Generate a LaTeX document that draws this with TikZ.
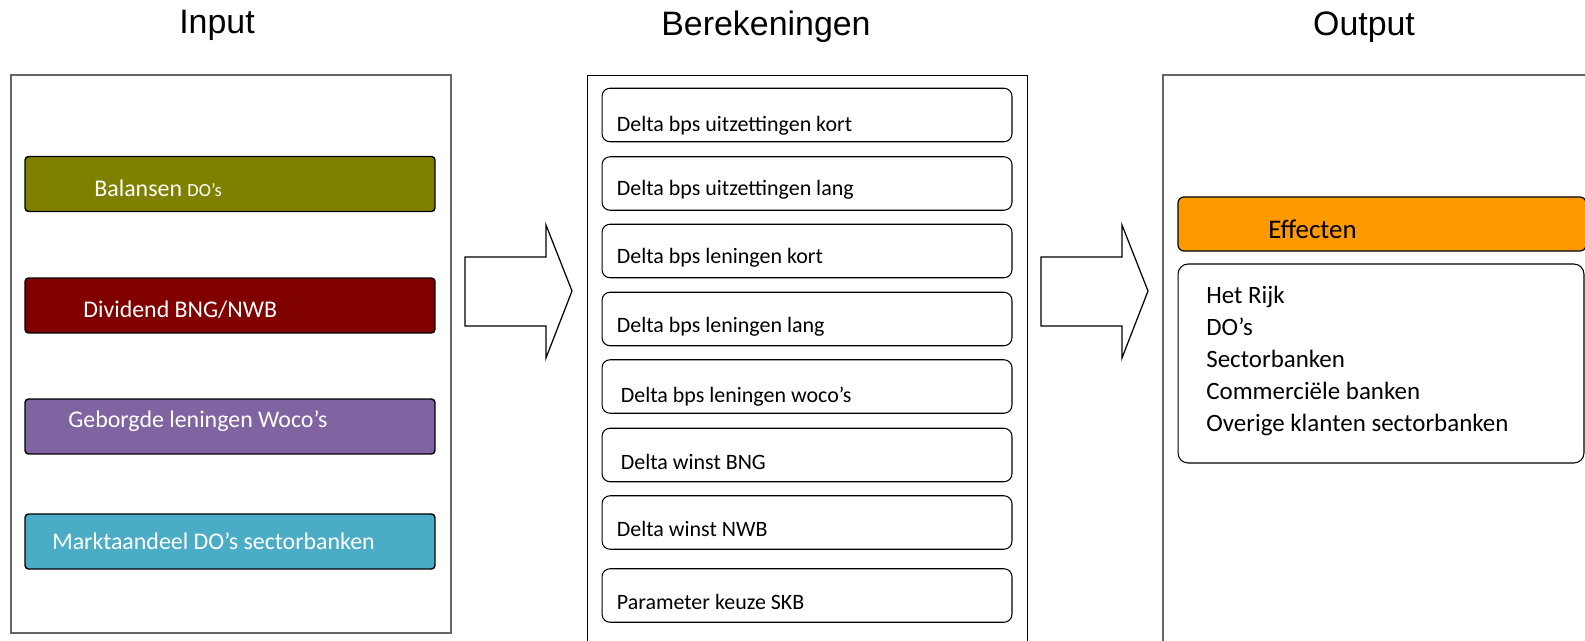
\documentclass[tikz,border=0pt]{standalone}
\usepackage{fontspec}
\setmainfont{Carlito}
\newfontfamily\headfont{Liberation Sans}

\definecolor{olivebox}{HTML}{808000}
\definecolor{darkredbox}{HTML}{800000}
\definecolor{purplebox}{HTML}{8064A2}
\definecolor{tealbox}{HTML}{4BACC6}
\definecolor{orangebox}{HTML}{FF9900}

\begin{document}
\begin{tikzpicture}[x=0.02cm, y=-0.02cm]
    % Define styles
    \tikzset{
        title/.style={
            font=\headfont\fontsize{19.3}{22}\selectfont
        },
        inbox/.style={
            draw=black,
            line width=0.8pt,
            rounded corners=0.07cm,
            minimum width=8.2cm,
            minimum height=1.1cm,
            inner sep=0pt
        },
        intext/.style={
            anchor=west,
            inner sep=0pt,
            text=white,
            font=\fontsize{13.6}{16}\selectfont
        },
        calcbox/.style={
            draw,
            rounded corners=0.16cm,
            line width=0.6pt,
            minimum width=8.2cm,
            minimum height=1.07cm
        },
        calctext/.style={
            anchor=west,
            inner sep=0pt,
            xshift=0.3cm,
            yshift=-0.13cm,
            font=\fontsize{12.5}{15}\selectfont
        },
        frame/.style={
            draw=gray!80!black,
            line width=1.1pt
        },
        blockarrow/.style={
            draw,
            line width=0.7pt,
            fill=white
        }
    }

    \useasboundingbox (0,0) rectangle (1585,641);

    % Titles
    \node[title] (input) at (217,25) {Input};
    \node[title] (berekeningen) at (766,27) {Berekeningen};
    \node[title] (output) at (1364,27) {Output};

    % Columns
    \draw[frame] (11,75) rectangle (451,633);
    \draw[line width=0.5pt] (587,660) -- (587,75) -- (1027,75) -- (1027,660);
    \draw[frame] (1163,660) -- (1163,75) -- (1600,75);

    % Input
    \node[inbox, fill=olivebox] (balansen) at (230,184) {};
    \node[intext] (balansen-t) at (94,188) {Balansen {\fontsize{10.5}{12}\selectfont DO’s}};
    \node[inbox, fill=darkredbox] (dividend) at (230,305.5) {};
    \node[intext] (dividend-t) at (83,310) {Dividend BNG/NWB};
    \node[inbox, fill=purplebox] (geborgd) at (230,426.5) {};
    \node[intext] (geborgd-t) at (68,421) {Geborgde leningen Woco’s};
    \node[inbox, fill=tealbox] (markt) at (230,541.5) {};
    \node[intext] (markt-t) at (52,541) {Marktaandeel DO’s sectorbanken};

    % Block arrows
    \foreach \x in {465, 1041}
        \draw[blockarrow] (\x,257) -- (\x+81,257) -- (\x+81,225) -- (\x+107,291)
            -- (\x+81,358) -- (\x+81,326) -- (\x,326) -- cycle;

    % Berekeningen
    \node[calcbox] (calc1) at (807,115) {};
    \node[calctext, yshift=-0.08cm] (calc1-t) at (calc1.west) {Delta bps uitzettingen kort};
    \node[calcbox] (calc2) at (807,183.5) {};
    \node[calctext] (calc2-t) at (calc2.west) {Delta bps uitzettingen lang};
    \node[calcbox] (calc3) at (807,251) {};
    \node[calctext] (calc3-t) at (calc3.west) {Delta bps leningen kort};
    \node[calcbox] (calc4) at (807,319) {};
    \node[calctext, yshift=-0.03cm] (calc4-t) at (calc4.west) {Delta bps leningen lang};
    \node[calcbox] (calc5) at (807,386.5) {};
    \node[calctext, xshift=0.08cm, yshift=-0.07cm] (calc5-t) at (calc5.west) {Delta bps leningen woco’s};
    \node[calcbox] (calc6) at (807,455) {};
    \node[calctext, xshift=0.08cm] (calc6-t) at (calc6.west) {Delta winst BNG};
    \node[calcbox] (calc7) at (807,522.5) {};
    \node[calctext] (calc7-t) at (calc7.west) {Delta winst NWB};
    \node[calcbox] (calc8) at (807,595.5) {};
    \node[calctext] (calc8-t) at (calc8.west) {Parameter keuze SKB};

    % Output
    \node[draw, fill=orangebox, rounded corners=0.12cm, line width=0.7pt,
        minimum width=8.16cm, minimum height=1.08cm] (effecten) at (1382,224) {};
    \node[anchor=west, inner sep=0pt, font=\fontsize{15.3}{18}\selectfont] (effecten-t) at (1268,229) {Effecten};
    \node[draw, rounded corners=0.2cm, line width=0.6pt,
        minimum width=8.12cm, minimum height=3.98cm] (groepen) at (1381,363.5) {};
    \node[anchor=west, inner sep=0pt, align=left, font=\fontsize{14.2}{18.1}\selectfont] (groepen-t) at (1206,361)
        {Het Rijk\\DO’s\\Sectorbanken\\Commerciële banken\\Overige klanten sectorbanken};

\end{tikzpicture}
\end{document}
